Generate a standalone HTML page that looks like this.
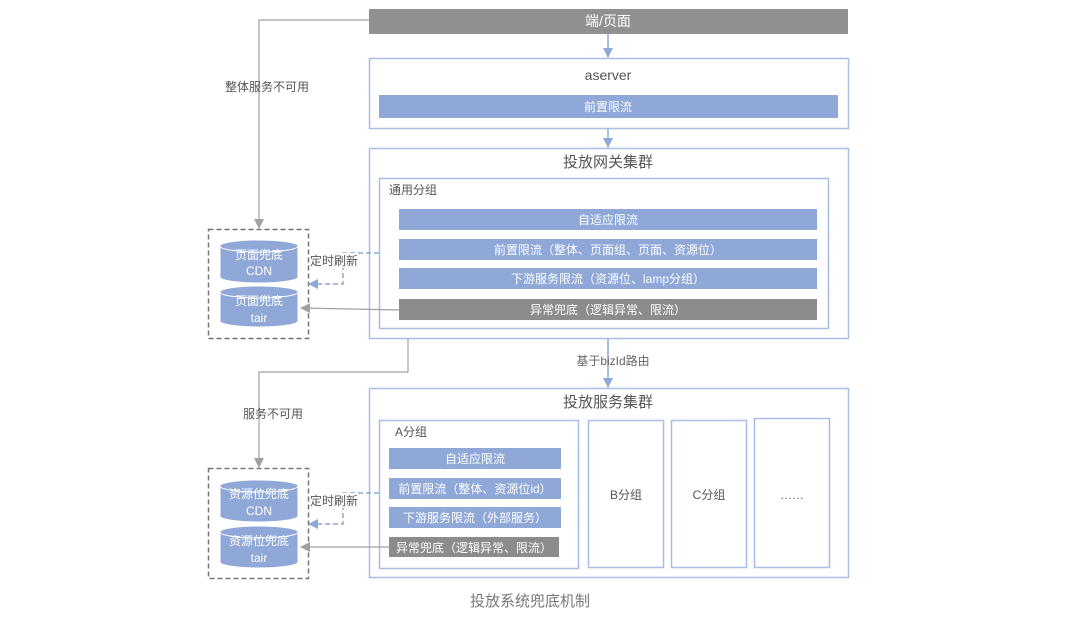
<!DOCTYPE html>
<html><head><meta charset="utf-8">
<style>
html,body{margin:0;padding:0;background:#fff;}
svg{display:block;}
text{font-family:"Liberation Sans","Noto Sans CJK SC",sans-serif;}
</style></head><body>
<svg width="1080" height="619" viewBox="0 0 1080 619" xmlns="http://www.w3.org/2000/svg">
<defs>
<marker id="ab" markerWidth="10" markerHeight="10" refX="9" refY="5" orient="auto" markerUnits="userSpaceOnUse"><path d="M0,0 L10,5 L0,10 z" fill="#8fa8d8"/></marker>
<marker id="ag" markerWidth="10" markerHeight="10" refX="9" refY="5" orient="auto" markerUnits="userSpaceOnUse"><path d="M0,0 L10,5 L0,10 z" fill="#a0a0a0"/></marker>
</defs>
<rect width="1080" height="619" fill="#fff"/>

<!-- top bar -->
<rect x="369" y="9" width="479" height="25" fill="#909090"/>
<text x="608" y="26" font-size="14" fill="#fff" text-anchor="middle">端/页面</text>
<line x1="608" y1="34" x2="608" y2="57" stroke="#8fa8d8" stroke-width="1.5" marker-end="url(#ab)"/>

<!-- aserver -->
<rect x="369.5" y="58.5" width="479" height="70" fill="#fff" stroke="#a9bde6" stroke-width="1.5"/>
<text x="608" y="80" font-size="14" fill="#555" text-anchor="middle">aserver</text>
<rect x="379" y="95" width="459" height="23" fill="#8fa8d8"/>
<text x="608" y="111" font-size="12" fill="#fff" text-anchor="middle">前置限流</text>
<line x1="608" y1="129" x2="608" y2="147" stroke="#8fa8d8" stroke-width="1.5" marker-end="url(#ab)"/>

<!-- gateway -->
<rect x="369.5" y="148.5" width="479" height="190" fill="#fff" stroke="#a9bde6" stroke-width="1.5"/>
<text x="608" y="167" font-size="15" fill="#555" text-anchor="middle">投放网关集群</text>
<rect x="379.5" y="178.5" width="449" height="150" fill="#fff" stroke="#a9bde6" stroke-width="1.5"/>
<text x="389" y="194" font-size="12" fill="#555">通用分组</text>
<rect x="399" y="209" width="418" height="21" fill="#8fa8d8"/>
<text x="608" y="224" font-size="12" fill="#fff" text-anchor="middle">自适应限流</text>
<rect x="399" y="239" width="418" height="21" fill="#8fa8d8"/>
<text x="608" y="254" font-size="12" fill="#fff" text-anchor="middle">前置限流（整体、页面组、页面、资源位）</text>
<rect x="399" y="268" width="418" height="21" fill="#8fa8d8"/>
<text x="608" y="283" font-size="12" fill="#fff" text-anchor="middle">下游服务限流（资源位、lamp分组）</text>
<rect x="399" y="299" width="418" height="21" fill="#8c8c8c"/>
<text x="608" y="314" font-size="12" fill="#fff" text-anchor="middle">异常兜底（逻辑异常、限流）</text>

<!-- bizId route -->
<line x1="608" y1="339" x2="608" y2="387" stroke="#8fa8d8" stroke-width="1.5" marker-end="url(#ab)"/>
<text x="613" y="365" font-size="12" fill="#666" text-anchor="middle">基于bizId路由</text>

<!-- service cluster -->
<rect x="369.5" y="388.5" width="479" height="189" fill="#fff" stroke="#a9bde6" stroke-width="1.5"/>
<text x="608" y="407" font-size="15" fill="#555" text-anchor="middle">投放服务集群</text>
<rect x="379.5" y="420.5" width="199" height="148" fill="#fff" stroke="#a9bde6" stroke-width="1.5"/>
<text x="395" y="436" font-size="12" fill="#555">A分组</text>
<rect x="389" y="448" width="172" height="21" fill="#8fa8d8"/>
<text x="475" y="463" font-size="12" fill="#fff" text-anchor="middle">自适应限流</text>
<rect x="389" y="478" width="172" height="21" fill="#8fa8d8"/>
<text x="475" y="493" font-size="12" fill="#fff" text-anchor="middle">前置限流（整体、资源位id）</text>
<rect x="389" y="507" width="172" height="21" fill="#8fa8d8"/>
<text x="475" y="522" font-size="12" fill="#fff" text-anchor="middle">下游服务限流（外部服务）</text>
<rect x="389" y="537" width="170" height="20" fill="#8c8c8c"/>
<text x="474" y="552" font-size="12" fill="#fff" text-anchor="middle">异常兜底（逻辑异常、限流）</text>

<rect x="588.5" y="420.5" width="75" height="147" fill="#fff" stroke="#a9bde6" stroke-width="1.5"/>
<text x="626" y="499" font-size="12" fill="#555" text-anchor="middle">B分组</text>
<rect x="671.5" y="420.5" width="75" height="147" fill="#fff" stroke="#a9bde6" stroke-width="1.5"/>
<text x="709" y="499" font-size="12" fill="#555" text-anchor="middle">C分组</text>
<rect x="754.5" y="418.5" width="75" height="149" fill="#fff" stroke="#a9bde6" stroke-width="1.5"/>
<text x="792" y="499" font-size="12" fill="#555" text-anchor="middle">……</text>

<!-- gray connectors -->
<polyline points="369,20 259,20 259,228" fill="none" stroke="#a0a0a0" stroke-width="1.2" marker-end="url(#ag)"/>
<text x="267" y="91" font-size="12" fill="#555" text-anchor="middle">整体服务不可用</text>
<polyline points="408,339 408,372 259,372 259,467" fill="none" stroke="#a0a0a0" stroke-width="1.2" marker-end="url(#ag)"/>
<text x="273" y="418" font-size="12" fill="#555" text-anchor="middle">服务不可用</text>

<!-- upper fallback -->
<rect x="208.5" y="229.5" width="100" height="109" fill="none" stroke="#777" stroke-width="1.5" stroke-dasharray="5,3"/>
<g fill="#8fa8d8" stroke="#fff" stroke-width="1">
<path d="M220,246 v31 a39,6 0 0 0 78,0 v-31 z"/><ellipse cx="259" cy="246" rx="39" ry="6"/>
<path d="M220,292 v29 a39,6 0 0 0 78,0 v-29 z"/><ellipse cx="259" cy="292" rx="39" ry="6"/>
</g>
<text x="259" y="259" font-size="12" fill="#fff" text-anchor="middle">页面兜底</text>
<text x="259" y="275" font-size="12" fill="#fff" text-anchor="middle">CDN</text>
<text x="259" y="305" font-size="12" fill="#fff" text-anchor="middle">页面兜底</text>
<text x="259" y="322" font-size="12" fill="#fff" text-anchor="middle">tair</text>
<polyline points="379,253 343,253 343,284 309,284" fill="none" stroke="#8fa8d8" stroke-width="1.5" stroke-dasharray="5,3" marker-end="url(#ab)"/>
<rect x="310" y="253" width="48" height="15" fill="#fff"/>
<text x="334" y="265" font-size="12" fill="#555" text-anchor="middle">定时刷新</text>
<line x1="399" y1="310" x2="301" y2="308" stroke="#a0a0a0" stroke-width="1.2" marker-end="url(#ag)"/>

<!-- lower fallback -->
<rect x="208.5" y="468.5" width="100" height="110" fill="none" stroke="#777" stroke-width="1.5" stroke-dasharray="5,3"/>
<g fill="#8fa8d8" stroke="#fff" stroke-width="1">
<path d="M220,486 v30 a39,6 0 0 0 78,0 v-30 z"/><ellipse cx="259" cy="486" rx="39" ry="6"/>
<path d="M220,532 v30 a39,6 0 0 0 78,0 v-30 z"/><ellipse cx="259" cy="532" rx="39" ry="6"/>
</g>
<text x="259" y="498" font-size="12" fill="#fff" text-anchor="middle">资源位兜底</text>
<text x="259" y="515" font-size="12" fill="#fff" text-anchor="middle">CDN</text>
<text x="259" y="545" font-size="12" fill="#fff" text-anchor="middle">资源位兜底</text>
<text x="259" y="562" font-size="12" fill="#fff" text-anchor="middle">tair</text>
<polyline points="379,493 343,493 343,524 309,524" fill="none" stroke="#8fa8d8" stroke-width="1.5" stroke-dasharray="5,3" marker-end="url(#ab)"/>
<rect x="310" y="493" width="48" height="15" fill="#fff"/>
<text x="334" y="505" font-size="12" fill="#555" text-anchor="middle">定时刷新</text>
<line x1="389" y1="547" x2="301" y2="547" stroke="#a0a0a0" stroke-width="1.2" marker-end="url(#ag)"/>

<text x="530" y="606" font-size="15" fill="#777" text-anchor="middle">投放系统兜底机制</text>
</svg>
</body></html>
